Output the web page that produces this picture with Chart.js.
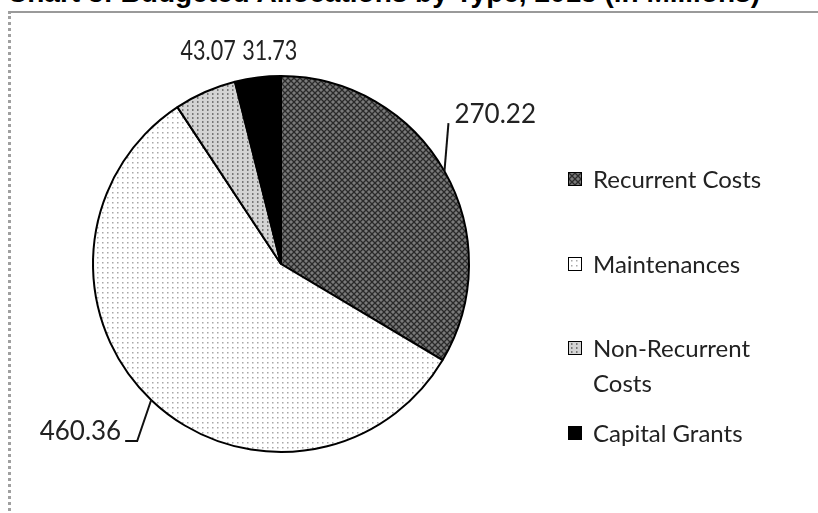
<!doctype html>
<html>

<head>
    <title>Budgeted Allocations by Type</title>
    <script src="https://cdnjs.cloudflare.com/ajax/libs/Chart.js/4.4.1/chart.umd.min.js"></script>
    <style>
        body {
            margin: 0;
            background: #fff;
        }

        .page {
            position: relative;
            width: 818px;
            height: 513px;
            overflow: hidden;
            background: #fff;
        }

        .title {
            position: absolute;
            left: 7px;
            top: -23px;
            font: bold 28px "Liberation Sans", Arial, sans-serif;
            color: #000;
            white-space: nowrap;
        }

        .frame {
            position: absolute;
            left: 8px;
            top: 11px;
            width: 900px;
            height: 600px;
            border-top: 2px solid #9a9a9a;
            border-left: 3px dotted #a0a0a0;
            background: #fff;
        }

        canvas {
            position: absolute;
            left: 0;
            top: 0;
        }

        .legend {
            position: absolute;
            left: 568px;
            top: 0;
            font: 24px Lato, "Open Sans", sans-serif;
            color: #222;
        }

        .legend .item {
            position: absolute;
            left: 0;
            display: flex;
            align-items: flex-start;
            width: 230px;
            line-height: 35px;
        }

        .legend .sw {
            width: 12px;
            height: 12px;
            border: 1px solid #000;
            margin-top: 11px;
            margin-right: 11px;
            flex: none;
        }

        .legend .txt {
            width: 190px;
        }
    </style>
</head>

<body>
    <div class="page">
        <div class="title">Chart 3: Budgeted Allocations by Type, 2013 (in Millions)</div>
        <div class="frame"></div>
        <canvas id="canvas" width="818" height="513"></canvas>
        <div class="legend" id="legend"></div>
    </div>
    <script>
        let tipos = ['Recurrent Costs', 'Maintenances', 'Non-Recurrent Costs', 'Capital Grants'];
        let montos = [270.22, 460.36, 43.07, 31.73];
        let etiquetas = ['270.22', '460.36', '43.07', '31.73'];

        // where each value label sits, relative to the middle of its slice edge
        let labelPos = [
            { dx: 10, dy: -57, sx: 1, align: 'left', line: [[0, 0], [4, -48]] },
            { dx: -30, dy: 32, sx: 1, align: 'right', line: [[0, 0], [-14, 41], [-26, 41]] },
            { dx: 3, dy: -40, sx: 0.83, align: 'center', line: null },
            { dx: 12, dy: -26, sx: 0.83, align: 'center', line: null }
        ];
        let legendTop = [161, 246, 330, 415];

        function tile(w, h, fn) {
            let c = document.createElement('canvas');
            c.width = w;
            c.height = h;
            fn(c.getContext('2d'));
            return c;
        }

        let tiles = [
            tile(6, 6, g => {
                g.fillStyle = '#7a7a7a';
                g.fillRect(0, 0, 6, 6);
                g.strokeStyle = '#2a2a2a';
                g.lineWidth = 1.3;
                g.beginPath();
                g.moveTo(0, 0); g.lineTo(6, 6);
                g.moveTo(6, 0); g.lineTo(0, 6);
                g.stroke();
            }),
            tile(5, 5, g => {
                g.fillStyle = '#fff';
                g.fillRect(0, 0, 5, 5);
                g.fillStyle = '#a8a8a8';
                g.fillRect(2, 2, 1.5, 1.5);
            }),
            tile(5, 4, g => {
                g.fillStyle = '#d4d4d4';
                g.fillRect(0, 0, 5, 4);
                g.fillStyle = '#777';
                g.fillRect(2, 1, 1.5, 2);
            }),
            tile(4, 4, g => {
                g.fillStyle = '#000';
                g.fillRect(0, 0, 4, 4);
            })
        ];

        let ctx = document.getElementById('canvas').getContext('2d');
        let patrones = tiles.map(t => ctx.createPattern(t, 'repeat'));

        // legend in html so the long label wraps like the original
        let leg = document.getElementById('legend');
        tipos.forEach((t, i) => {
            let item = document.createElement('div');
            item.className = 'item';
            item.style.top = legendTop[i] + 'px';
            let sw = document.createElement('span');
            sw.className = 'sw';
            sw.style.backgroundImage = 'url(' + tiles[i].toDataURL() + ')';
            let txt = document.createElement('span');
            txt.className = 'txt';
            txt.textContent = t;
            item.appendChild(sw);
            item.appendChild(txt);
            leg.appendChild(item);
        });

        let valueLabels = {
            id: 'valueLabels',
            afterDatasetsDraw(chart) {
                let c = chart.ctx;
                let arcs = chart.getDatasetMeta(0).data;
                c.save();
                c.fillStyle = '#222';
                c.strokeStyle = '#111';
                c.lineWidth = 2;
                c.textBaseline = 'middle';
                c.font = '26px Lato, "Open Sans", sans-serif';
                arcs.forEach((arc, i) => {
                    let p = arc.getProps(['x', 'y', 'startAngle', 'endAngle', 'outerRadius'], true);
                    let mid = (p.startAngle + p.endAngle) / 2;
                    let ax = p.x + Math.cos(mid) * p.outerRadius;
                    let ay = p.y + Math.sin(mid) * p.outerRadius;
                    let lp = labelPos[i];
                    if (lp.line) {
                        c.beginPath();
                        lp.line.forEach((pt, k) => {
                            if (k === 0) c.moveTo(ax + pt[0], ay + pt[1]);
                            else c.lineTo(ax + pt[0], ay + pt[1]);
                        });
                        c.stroke();
                    }
                    c.save();
                    c.translate(ax + lp.dx, ay + lp.dy);
                    c.scale(lp.sx, 1);
                    c.textAlign = lp.align;
                    c.fillText(etiquetas[i], 0, 0);
                    c.restore();
                });
                c.restore();
            }
        };

        window.myPie = new Chart(ctx, {
            type: 'pie',
            data: {
                labels: tipos,
                datasets: [{
                    data: montos,
                    backgroundColor: patrones,
                    borderColor: '#000',
                    borderWidth: 2,
                    hoverOffset: 0
                }]
            },
            options: {
                responsive: false,
                animation: false,
                layout: {
                    padding: { left: 92, right: 348, top: 75, bottom: 60 }
                },
                plugins: {
                    legend: { display: false },
                    tooltip: { enabled: false }
                }
            },
            plugins: [valueLabels]
        });
    </script>
</body>

</html>
